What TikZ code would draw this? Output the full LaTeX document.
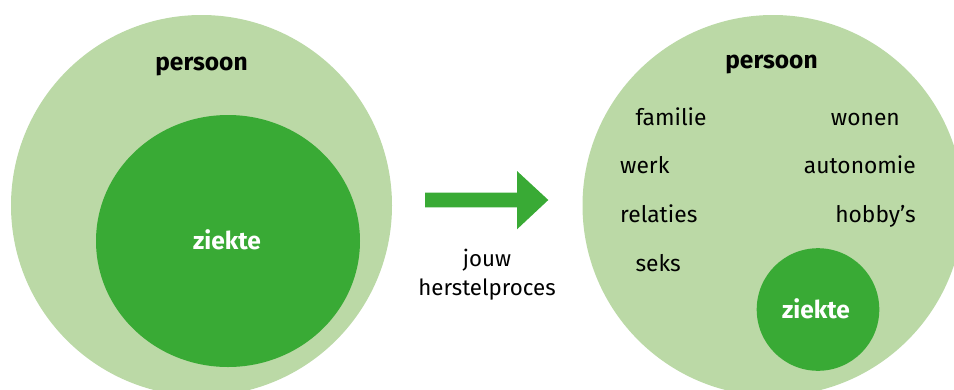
\documentclass[tikz,border=0pt]{standalone}
\usepackage{fontspec}
\setmainfont{Fira Sans}
\definecolor{lightg}{HTML}{BBD9A6}
\definecolor{darkg}{HTML}{39AA35}
\begin{document}
\begin{tikzpicture}[x=1pt,y=-1pt,
  wordl/.style={anchor=base west,inner sep=0pt,font=\fontsize{22.8}{27}\selectfont},
  wordr/.style={anchor=base east,inner sep=0pt,font=\fontsize{22.8}{27}\selectfont},
  bold/.style={anchor=base,inner sep=0pt,font=\fontsize{24.5}{29}\selectfont\bfseries},
  lbl/.style={anchor=base,inner sep=0pt,font=\fontsize{22.3}{27}\selectfont}]
\useasboundingbox (0,0) rectangle (954,389);
\clip (0,0) rectangle (954,389);
% left
\fill[lightg] (201.5,205.5) circle (190.5);
\fill[darkg] (228,241) ellipse [x radius=132, y radius=126];
\node[bold] (p1) at (201.5,70) {persoon};
\node[bold,white] (z1) at (227,249) {ziekte};
% arrow
\fill[darkg] (425,192.7) -- (517,192.7) -- (517,171) -- (548.3,200) -- (517,229.3) -- (517,207.3) -- (425,207.3) -- cycle;
\node[lbl] (j) at (487,266.7) {jouw};
\node[lbl] (h) at (487,295.7) {herstelproces};
% right
\fill[lightg] (773,205.5) circle (190.5);
\fill[darkg] (818,309.5) circle (61.3);
\node[bold] (p2) at (771.5,68) {persoon};
\node[bold,white] (z2) at (816,318) {ziekte};
\node[wordl] (fa) at (635.3,125) {familie};
\node[wordr] (wo) at (900,125) {wonen};
\node[wordl] (we) at (620,173) {werk};
\node[wordr] (au) at (916,173) {autonomie};
\node[wordl] (re) at (620,222) {relaties};
\node[wordr] (ho) at (916,222) {hobby’s};
\node[wordl] (se) at (635.3,271) {seks};
\end{tikzpicture}
\end{document}
